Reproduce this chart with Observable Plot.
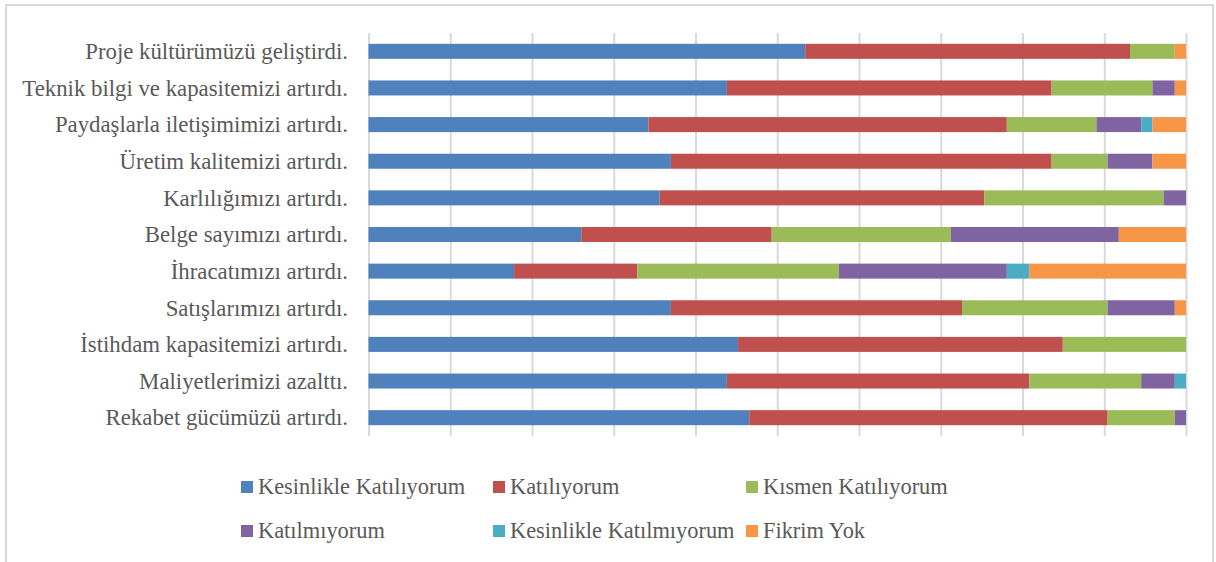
<!DOCTYPE html>
<html>
<head>
<meta charset="utf-8">
<script src="https://cdn.jsdelivr.net/npm/d3@7"></script>
<script src="https://cdn.jsdelivr.net/npm/@observablehq/plot@0.6"></script>
<style>
  html, body { margin: 0; padding: 0; background: #fff; }
  #wrap { position: relative; width: 1216px; height: 562px; overflow: hidden; }
  #frame { position: absolute; left: 5px; top: 4px; width: 1209px; height: 600px; border: 2px solid #d9d9d9; box-sizing: border-box; }
  #chart { position: absolute; left: 0; top: 0; }
  .lg { position: absolute; display: flex; align-items: center; font-family: 'Liberation Serif', 'DejaVu Serif', serif; font-size: 22.4px; color: #595959; white-space: nowrap; }
  .sw { width: 12px; height: 12px; margin-right: 5px; flex: none; }
</style>
</head>
<body>
<div id="wrap">
  <div id="frame"></div>
  <div id="chart"></div>
  <div id="legend"></div>
</div>
<script>
// Categories, top to bottom
const categories = [
  "Proje kültürümüzü geliştirdi.",
  "Teknik bilgi ve kapasitemizi artırdı.",
  "Paydaşlarla iletişimimizi artırdı.",
  "Üretim kalitemizi artırdı.",
  "Karlılığımızı artırdı.",
  "Belge sayımızı artırdı.",
  "İhracatımızı artırdı.",
  "Satışlarımızı artırdı.",
  "İstihdam kapasitemizi artırdı.",
  "Maliyetlerimizi azalttı.",
  "Rekabet gücümüzü artırdı."
];
const series = ["Kesinlikle Katılıyorum", "Katılıyorum", "Kısmen Katılıyorum", "Katılmıyorum", "Kesinlikle Katılmıyorum", "Fikrim Yok"];
const colors = ["#4F81BD", "#C0504D", "#9BBB59", "#8064A2", "#4BACC6", "#F79646"];

// Response counts per category, same order as categories
const kesinlikleKatiliyorum = [39, 32, 25, 27, 26, 19, 13, 27, 33, 32, 34];
const katiliyorum           = [29, 29, 32, 34, 29, 17, 11, 26, 29, 27, 32];
const kismenKatiliyorum     = [ 4,  9,  8,  5, 16, 16, 18, 13, 11, 10,  6];
const katilmiyorum          = [ 0,  2,  4,  4,  2, 15, 15,  6,  0,  3,  1];
const kesinlikleKatilmiyorum= [ 0,  0,  1,  0,  0,  0,  2,  0,  0,  1,  0];
const fikrimYok             = [ 1,  1,  3,  3,  0,  6, 14,  1,  0,  0,  0];

const seriesValues = [kesinlikleKatiliyorum, katiliyorum, kismenKatiliyorum, katilmiyorum, kesinlikleKatilmiyorum, fikrimYok];
const xTicks = [0, 0.1, 0.2, 0.3, 0.4, 0.5, 0.6, 0.7, 0.8, 0.9, 1];

const data = [];
categories.forEach((c, i) => {
  series.forEach((s, j) => {
    data.push({category: c, series: s, value: seriesValues[j][i]});
  });
});

const chart = Plot.plot({
  width: 1216,
  height: 450,
  marginTop: 33,
  marginBottom: 14,
  marginLeft: 368.5,
  marginRight: 30,
  style: {fontFamily: "'Liberation Serif', 'DejaVu Serif', serif", background: "transparent"},
  x: {domain: [0, 1], axis: null},
  y: {domain: categories, paddingInner: 0.59, paddingOuter: 0.295, round: false, label: null},
  color: {domain: series, range: colors},
  marks: [
    Plot.ruleX(xTicks, {stroke: "#d9d9d9", strokeWidth: 2}),
    Plot.barX(data, Plot.stackX({
      x: "value", y: "category", fill: "series", order: series, offset: "normalize"
    })),
    Plot.axisY({tickSize: 0, tickPadding: 21, fontSize: 22.8, fill: "#595959", label: null})
  ]
});
document.getElementById("chart").appendChild(chart);

// Legend (3 columns x 2 rows)
const legendCols = [241, 493, 746];
const legendRows = [487, 530.5];
const legend = document.getElementById("legend");
series.forEach((s, i) => {
  const item = document.createElement("div");
  item.className = "lg";
  item.style.left = legendCols[i % 3] + "px";
  item.style.top = (legendRows[Math.floor(i / 3)] - 13) + "px";
  item.style.height = "26px";
  const sw = document.createElement("span");
  sw.className = "sw";
  sw.style.background = colors[i];
  const tx = document.createElement("span");
  tx.textContent = s;
  item.appendChild(sw);
  item.appendChild(tx);
  legend.appendChild(item);
});
</script>
</body>
</html>
